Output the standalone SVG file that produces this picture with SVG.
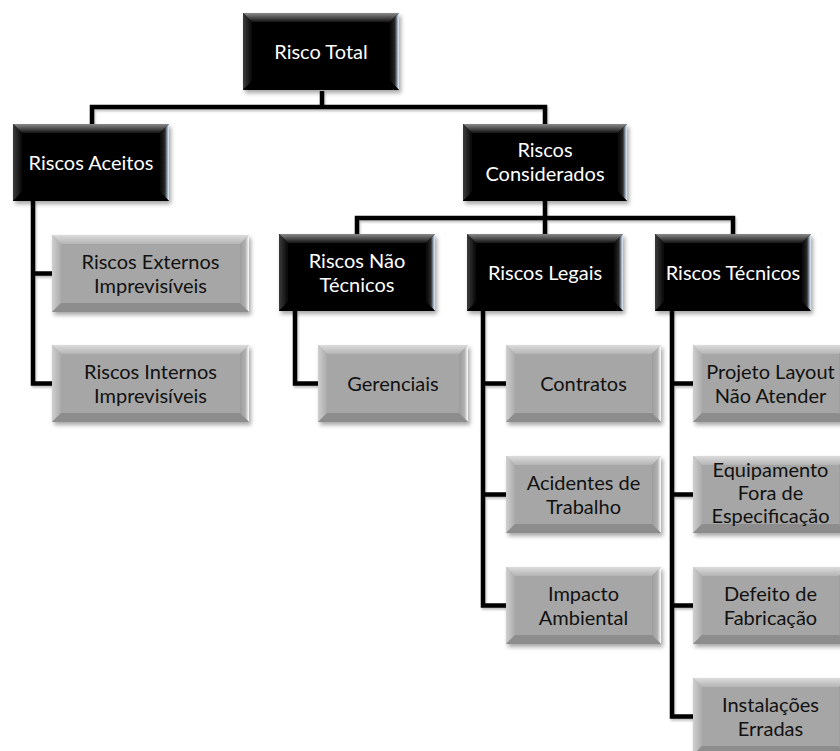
<svg xmlns="http://www.w3.org/2000/svg" xmlns:xlink="http://www.w3.org/1999/xlink" width="840" height="751" viewBox="0 0 840 751">
  <style>
    .link { fill: none; stroke: #000; stroke-width: 4.5; stroke-linejoin: miter; }
    .lbl { font-family: Lato, "Open Sans", "Liberation Sans", sans-serif; font-size: 20px; text-anchor: middle; }
    .dark .lbl { fill: #ffffff; }
    .light .lbl { fill: #111111; }
    .bface { fill: #000; }
    .btop { fill: url(#bTopGrad); }
    .bleft { fill: url(#bLeftGrad); }
    .bright { fill: url(#bRightGrad); }
    .bbottom { fill: #000; }
    .gface { fill: #a6a6a6; }
    .gtop { fill: url(#gTopGrad); }
    .gleft { fill: url(#gLeftGrad); }
    .gright { fill: url(#gRightGrad); }
    .gbottom { fill: #8d8d8d; }
  </style>
  <defs>
    <filter id="shadow" x="-10%" y="-10%" width="125%" height="130%">
      <feDropShadow dx="2" dy="3" stdDeviation="2" flood-color="#000" flood-opacity="0.35"/>
    </filter>
    <filter id="lineShadow" x="-5%" y="-5%" width="110%" height="115%">
      <feDropShadow dx="1" dy="2" stdDeviation="1.2" flood-color="#000" flood-opacity="0.25"/>
    </filter>
    <!-- bevel gradients, dark boxes -->
    <linearGradient id="bTopGrad" x1="0" y1="0" x2="0" y2="1">
      <stop offset="0" stop-color="#8a8a8a"/>
      <stop offset="1" stop-color="#141414"/>
    </linearGradient>
    <linearGradient id="bLeftGrad" x1="0" y1="0" x2="1" y2="0">
      <stop offset="0" stop-color="#3c3c3c"/>
      <stop offset="1" stop-color="#080808"/>
    </linearGradient>
    <linearGradient id="bRightGrad" x1="0" y1="0" x2="1" y2="0">
      <stop offset="0" stop-color="#050505"/>
      <stop offset="0.55" stop-color="#2a2a2a"/>
      <stop offset="0.8" stop-color="#8fa2b4"/>
      <stop offset="1" stop-color="#eef4fa"/>
    </linearGradient>
    <!-- bevel gradients, light boxes -->
    <linearGradient id="gTopGrad" x1="0" y1="0" x2="0" y2="1">
      <stop offset="0" stop-color="#dcdcdc"/>
      <stop offset="1" stop-color="#b4b4b4"/>
    </linearGradient>
    <linearGradient id="gLeftGrad" x1="0" y1="0" x2="1" y2="0">
      <stop offset="0" stop-color="#cfcfcf"/>
      <stop offset="1" stop-color="#ababab"/>
    </linearGradient>
    <linearGradient id="gRightGrad" x1="0" y1="0" x2="1" y2="0">
      <stop offset="0" stop-color="#9c9c9c"/>
      <stop offset="0.6" stop-color="#b0b0b0"/>
      <stop offset="1" stop-color="#ffffff"/>
    </linearGradient>

    <!-- box templates at origin -->
    <g id="black156">
      <rect class="bface" width="156" height="77"/>
      <polygon class="btop" points="0,0 156,0 147,9 9,9"/>
      <polygon class="bleft" points="0,0 9,9 9,68 0,77"/>
      <polygon class="bright" points="156,0 147,9 147,68 156,77"/>
      <polygon class="bbottom" points="0,77 156,77 147,68 9,68"/>
    </g>
    <g id="black164">
      <rect class="bface" width="164" height="77"/>
      <polygon class="btop" points="0,0 164,0 155,9 9,9"/>
      <polygon class="bleft" points="0,0 9,9 9,68 0,77"/>
      <polygon class="bright" points="164,0 155,9 155,68 164,77"/>
      <polygon class="bbottom" points="0,77 164,77 155,68 9,68"/>
    </g>
    <g id="gray155">
      <rect class="gface" width="155" height="77"/>
      <polygon class="gtop" points="0,0 155,0 146,9 9,9"/>
      <polygon class="gleft" points="0,0 9,9 9,68 0,77"/>
      <polygon class="gright" points="155,0 146,9 146,68 155,77"/>
      <polygon class="gbottom" points="0,77 155,77 146,68 9,68"/>
    </g>
    <g id="gray197">
      <rect class="gface" width="197" height="77"/>
      <polygon class="gtop" points="0,0 197,0 188,9 9,9"/>
      <polygon class="gleft" points="0,0 9,9 9,68 0,77"/>
      <polygon class="gright" points="197,0 188,9 188,68 197,77"/>
      <polygon class="gbottom" points="0,77 197,77 188,68 9,68"/>
    </g>
    <g id="gray150">
      <rect class="gface" width="150" height="77"/>
      <polygon class="gtop" points="0,0 150,0 141,9 9,9"/>
      <polygon class="gleft" points="0,0 9,9 9,68 0,77"/>
      <polygon class="gright" points="150,0 141,9 141,68 150,77"/>
      <polygon class="gbottom" points="0,77 150,77 141,68 9,68"/>
    </g>
  </defs>

  <rect width="840" height="751" fill="#ffffff"/>

  <!-- connectors -->
  <g id="connectors" filter="url(#lineShadow)">
    <path class="link" d="M322,91 V107"/>
    <path class="link" d="M92,124 V107 H545 V124"/>
    <path class="link" d="M33,201 V383.5 H52 M33,273.5 H52"/>
    <path class="link" d="M545,200 V218 M357,234 V218 H733 V234 M545,218 V234"/>
    <path class="link" d="M295,311 V383.5 H318"/>
    <path class="link" d="M483,311 V605.5 H506 M483,383.5 H506 M483,494.5 H506"/>
    <path class="link" d="M672,311 V716.5 H693 M672,383.5 H693 M672,494.5 H693 M672,605.5 H693"/>
  </g>

  <!-- level 0 -->
  <g id="risco-total" class="dark">
    <use xlink:href="#black156" x="243" y="13" filter="url(#shadow)"/>
    <text class="lbl" x="321" y="58.5">Risco Total</text>
  </g>

  <!-- level 1 -->
  <g id="riscos-aceitos" class="dark">
    <use xlink:href="#black156" x="13" y="124" filter="url(#shadow)"/>
    <text class="lbl" x="91" y="169.5">Riscos Aceitos</text>
  </g>
  <g id="riscos-considerados" class="dark">
    <use xlink:href="#black164" x="463" y="124" filter="url(#shadow)"/>
    <text class="lbl" x="545" y="157">Riscos</text>
    <text class="lbl" x="545" y="181">Considerados</text>
  </g>

  <!-- level 2 -->
  <g id="riscos-externos" class="light">
    <use xlink:href="#gray197" x="52" y="235" filter="url(#shadow)"/>
    <text class="lbl" x="150.5" y="268.5">Riscos Externos</text>
    <text class="lbl" x="150.5" y="292.5">Imprevisíveis</text>
  </g>
  <g id="riscos-internos" class="light">
    <use xlink:href="#gray197" x="52" y="345" filter="url(#shadow)"/>
    <text class="lbl" x="150.5" y="378.5">Riscos Internos</text>
    <text class="lbl" x="150.5" y="402.5">Imprevisíveis</text>
  </g>
  <g id="riscos-nao-tecnicos" class="dark">
    <use xlink:href="#black156" x="279" y="234" filter="url(#shadow)"/>
    <text class="lbl" x="357" y="268">Riscos Não</text>
    <text class="lbl" x="357" y="292">Técnicos</text>
  </g>
  <g id="riscos-legais" class="dark">
    <use xlink:href="#black156" x="467" y="234" filter="url(#shadow)"/>
    <text class="lbl" x="545" y="279.5">Riscos Legais</text>
  </g>
  <g id="riscos-tecnicos" class="dark">
    <use xlink:href="#black156" x="655" y="234" filter="url(#shadow)"/>
    <text class="lbl" x="733" y="279.5">Riscos Técnicos</text>
  </g>

  <!-- level 3 -->
  <g id="gerenciais" class="light">
    <use xlink:href="#gray150" x="318" y="345" filter="url(#shadow)"/>
    <text class="lbl" x="393" y="390.5">Gerenciais</text>
  </g>
  <g id="contratos" class="light">
    <use xlink:href="#gray155" x="506" y="345" filter="url(#shadow)"/>
    <text class="lbl" x="583.5" y="390.5">Contratos</text>
  </g>
  <g id="acidentes-de-trabalho" class="light">
    <use xlink:href="#gray155" x="506" y="456" filter="url(#shadow)"/>
    <text class="lbl" x="583.5" y="489.5">Acidentes de</text>
    <text class="lbl" x="583.5" y="513.5">Trabalho</text>
  </g>
  <g id="impacto-ambiental" class="light">
    <use xlink:href="#gray155" x="506" y="567" filter="url(#shadow)"/>
    <text class="lbl" x="583.5" y="600.5">Impacto</text>
    <text class="lbl" x="583.5" y="624.5">Ambiental</text>
  </g>
  <g id="projeto-layout" class="light">
    <use xlink:href="#gray155" x="693" y="345" filter="url(#shadow)"/>
    <text class="lbl" x="770.5" y="378.5">Projeto Layout</text>
    <text class="lbl" x="770.5" y="402.5">Não Atender</text>
  </g>
  <g id="equipamento-fora" class="light">
    <use xlink:href="#gray155" x="693" y="456" filter="url(#shadow)"/>
    <text class="lbl" x="770.5" y="477">Equipamento</text>
    <text class="lbl" x="770.5" y="500">Fora de</text>
    <text class="lbl" x="770.5" y="522.5">Especificação</text>
  </g>
  <g id="defeito-fabricacao" class="light">
    <use xlink:href="#gray155" x="693" y="567" filter="url(#shadow)"/>
    <text class="lbl" x="770.5" y="600.5">Defeito de</text>
    <text class="lbl" x="770.5" y="624.5">Fabricação</text>
  </g>
  <g id="instalacoes-erradas" class="light">
    <use xlink:href="#gray155" x="693" y="678" filter="url(#shadow)"/>
    <text class="lbl" x="770.5" y="711.5">Instalações</text>
    <text class="lbl" x="770.5" y="735.5">Erradas</text>
  </g>
</svg>
